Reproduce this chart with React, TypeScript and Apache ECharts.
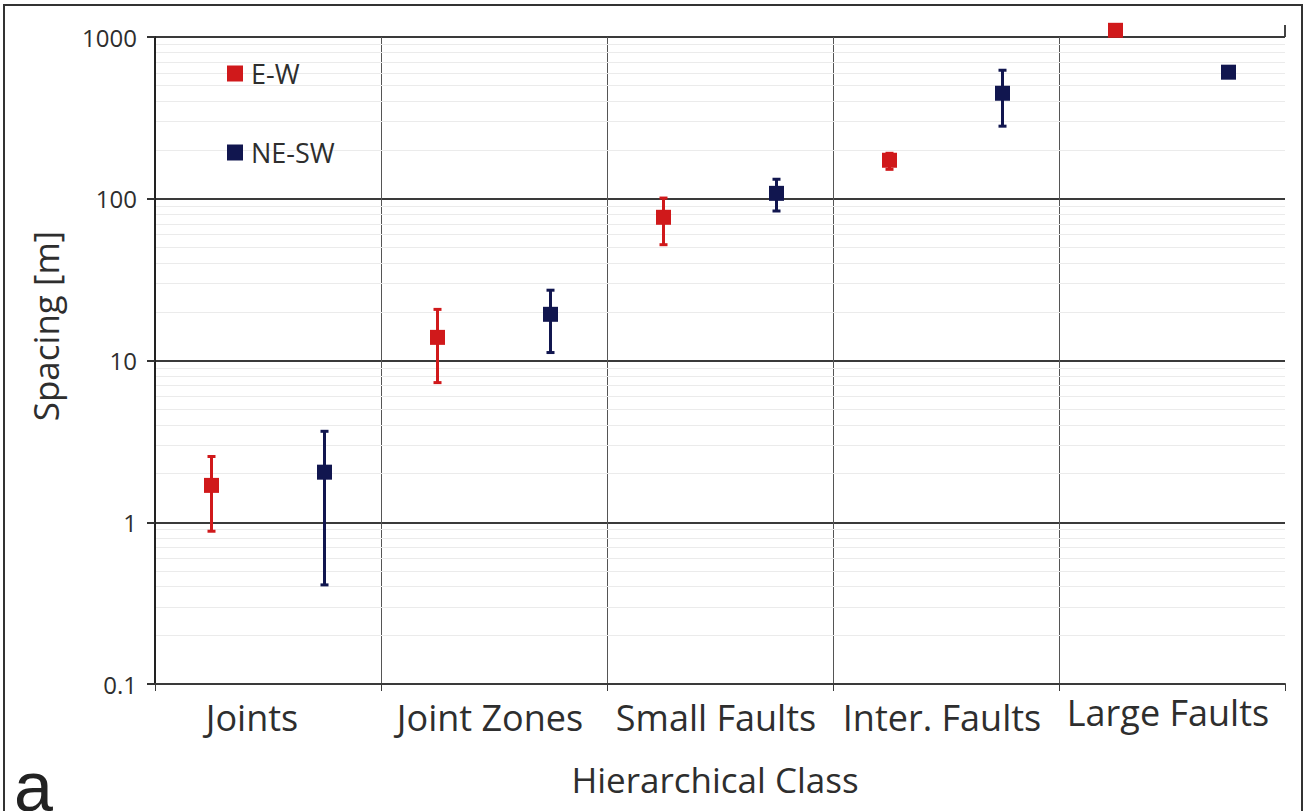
import React, { useEffect, useRef } from "react";
import * as echarts from "echarts";

const categories = ["Joints", "Joint Zones", "Small Faults", "Inter. Faults", "Large Faults"];
const yTickLabels = ["0.1", "1", "10", "100", "1000"];

// E-W series (mean, lower, upper); null = no error bar
const ewMean = [1.69, 13.9, 76.8, 173, 1100];
const ewLow = [0.88, 7.3, 52, 152, null];
const ewHigh = [2.55, 20.7, 101, 191, null];

// NE-SW series
const neMean = [2.04, 19.3, 108, 449, 606];
const neLow = [0.41, 11.2, 84, 281, null];
const neHigh = [3.65, 27.2, 132, 623, null];

const RED = "#d0191b";
const NAVY = "#11164f";
const FONT = "'Open Sans', 'Noto Sans', sans-serif";
const TXT = "#2e2e2e";

function errData(offset: number, low: (number | null)[], high: (number | null)[]) {
  const out: number[][] = [];
  low.forEach((l, i) => {
    const h = high[i];
    if (l != null && h != null) out.push([i + offset, l, h]);
  });
  return out;
}

function errRender(color: string) {
  return (params: any, api: any) => {
    const x = api.value(0);
    const pLo = api.coord([x, api.value(1)]);
    const pHi = api.coord([x, api.value(2)]);
    const w = 4;
    const st = { stroke: color, lineWidth: 3 };
    return {
      type: "group",
      children: [
        { type: "line", shape: { x1: pLo[0], y1: pLo[1], x2: pHi[0], y2: pHi[1] }, style: st },
        { type: "line", shape: { x1: pLo[0] - w, y1: pLo[1], x2: pLo[0] + w, y2: pLo[1] }, style: st },
        { type: "line", shape: { x1: pHi[0] - w, y1: pHi[1], x2: pHi[0] + w, y2: pHi[1] }, style: st },
      ],
    };
  };
}

export default function App() {
  const ref = useRef<HTMLDivElement>(null);
  useEffect(() => {
    if (!ref.current) return;
    const chart = echarts.init(ref.current, null, { renderer: "svg" });

    // log minor gridlines (2..9 in each decade)
    const minor: any[] = [];
    [0.1, 1, 10, 100].forEach((d) => {
      for (let k = 2; k <= 9; k++) minor.push({ yAxis: +(k * d).toPrecision(3) });
    });

    const lblBase = { fontFamily: FONT, fontSize: 36, color: TXT };

    chart.setOption({
      animation: false,
      backgroundColor: "#ffffff",
      grid: { left: 155, right: 22, top: 37, bottom: 127 },
      legend: {
        data: ["E-W", "NE-SW"],
        orient: "vertical",
        left: 222,
        top: 55,
        itemGap: 52,
        itemWidth: 16,
        itemHeight: 16,
        icon: "rect",
        textStyle: { fontFamily: FONT, fontSize: 27, color: TXT, padding: [0, 0, 0, 3] },
      },
      xAxis: [
        {
          type: "value",
          min: 0,
          max: 5,
          interval: 1,
          position: "bottom",
          axisLabel: { show: false },
          axisLine: { show: true, lineStyle: { color: "#3a3a3a", width: 2 } },
          axisTick: { show: true, length: 7, lineStyle: { color: "#3a3a3a", width: 1 } },
          splitLine: { show: true, showMinLine: false, showMaxLine: false, lineStyle: { color: "#555", width: 1 } },
        },
        {
          type: "category",
          data: categories,
          position: "bottom",
          boundaryGap: true,
          axisLine: { show: false },
          axisTick: { show: false },
          splitLine: { show: false },
          axisLabel: {
            interval: 0,
            margin: 10,
            ...lblBase,
            formatter: (v: string, i: number) => {
              const key = i === 0 ? "a" : i === 4 ? "c" : "b";
              return "{" + key + "|" + v + "}";
            },
            rich: {
              a: { ...lblBase, padding: [5, 32, 0, 0] },
              b: { ...lblBase, padding: [5, 8, 0, 0] },
              c: { ...lblBase, padding: [0, 8, 0, 0] },
            },
          },
          name: "Hierarchical Class",
          nameLocation: "middle",
          nameGap: 78,
          nameTextStyle: { fontFamily: FONT, fontSize: 35, color: TXT, padding: [0, 10, 0, 0] },
        },
      ],
      yAxis: {
        type: "log",
        logBase: 10,
        min: 0.1,
        max: 1000,
        axisLine: { show: true, lineStyle: { color: "#222", width: 2 } },
        axisTick: { show: true, length: 8, lineStyle: { color: "#333", width: 2 } },
        axisLabel: {
          fontFamily: FONT,
          fontSize: 24,
          color: TXT,
          margin: 18,
          formatter: (v: number) => {
            const idx = Math.round(Math.log10(v)) + 1;
            return yTickLabels[idx] ?? String(v);
          },
        },
        splitLine: { show: true, lineStyle: { color: "#3a3a3a", width: 2 } },
      },
      series: [
        {
          name: "grid-minor",
          type: "line",
          data: [],
          silent: true,
          z: 0,
          markLine: {
            silent: true,
            z: 0,
            symbol: "none",
            label: { show: false },
            lineStyle: { color: "#ebebeb", width: 1, type: "solid" },
            data: minor,
            animation: false,
          },
        },
        {
          name: "E-W err",
          type: "custom",
          renderItem: errRender(RED),
          data: errData(0.25, ewLow, ewHigh),
          encode: { x: 0, y: [1, 2] },
          z: 3,
        },
        {
          name: "NE-SW err",
          type: "custom",
          renderItem: errRender(NAVY),
          data: errData(0.75, neLow, neHigh),
          encode: { x: 0, y: [1, 2] },
          z: 3,
        },
        {
          name: "E-W",
          type: "scatter",
          symbol: "rect",
          symbolSize: 15,
          clip: false,
          itemStyle: { color: RED, opacity: 1 },
          data: ewMean.map((v, i) => [i + 0.25, v]),
          z: 4,
        },
        {
          name: "NE-SW",
          type: "scatter",
          symbol: "rect",
          symbolSize: 15,
          clip: false,
          itemStyle: { color: NAVY, opacity: 1 },
          data: neMean.map((v, i) => [i + 0.75, v]),
          z: 4,
        },
      ],
      graphic: [
        {
          type: "rect",
          shape: { x: 4, y: 5, width: 1298, height: 830 },
          style: { fill: "none", stroke: "#333", lineWidth: 2 },
          silent: true,
        },
        {
          type: "line",
          shape: { x1: 1285, y1: 25, x2: 1285, y2: 37 },
          style: { stroke: "#444", lineWidth: 2 },
          silent: true,
        },
        {
          type: "text",
          x: 45,
          y: 326,
          rotation: Math.PI / 2,
          style: {
            text: "Spacing [m]",
            font: "35px 'Open Sans', 'Noto Sans', sans-serif",
            fill: TXT,
            align: "center",
            verticalAlign: "middle",
          },
          silent: true,
        },
        {
          type: "text",
          left: 14,
          top: 752,
          style: {
            text: "a",
            font: "70px 'Liberation Sans', Arial, sans-serif",
            lineHeight: 50,
            fill: "#222",
          },
          silent: true,
        },
      ],
    });
    return () => chart.dispose();
  }, []);
  return (
    <div
      ref={ref}
      style={{ position: "absolute", left: 0, top: 0, width: 1307, height: 811, background: "#fff" }}
    />
  );
}
